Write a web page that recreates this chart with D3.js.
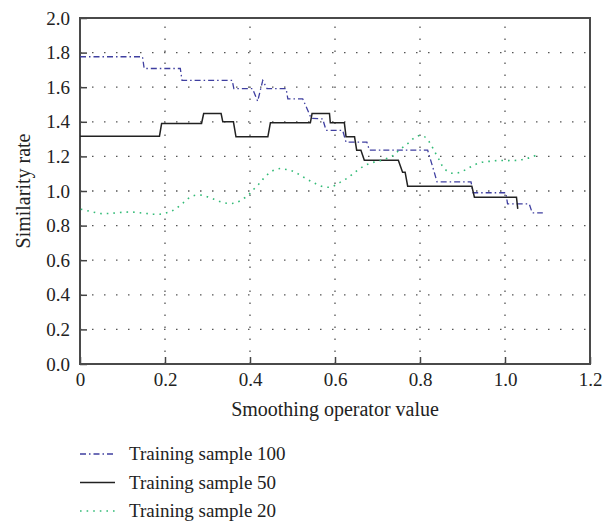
<!DOCTYPE html>
<html>
<head>
<meta charset="utf-8">
<script src="https://cdn.jsdelivr.net/npm/d3@7"></script>
<style>
  body { margin: 0; background: #fff; }
  svg text { font-family: "Liberation Serif", "DejaVu Serif", serif; fill: #222; }
</style>
</head>
<body>
<svg id="chart" width="616" height="522"></svg>
<script>
// values
let x_ticks = [0, 0.2, 0.4, 0.6, 0.8, 1.0, 1.2];
let y_ticks = [0, 0.2, 0.4, 0.6, 0.8, 1.0, 1.2, 1.4, 1.6, 1.8, 2.0];

let sample100 = [
    [0, 1.776], [0.147, 1.776], [0.151, 1.708], [0.236, 1.708], [0.24, 1.64], [0.358, 1.64],
    [0.362, 1.592], [0.406, 1.592], [0.418, 1.519], [0.43, 1.639], [0.44, 1.592], [0.485, 1.592],
    [0.489, 1.533], [0.524, 1.533], [0.544, 1.42], [0.571, 1.417], [0.579, 1.351], [0.618, 1.351],
    [0.626, 1.282], [0.675, 1.282], [0.681, 1.236], [0.818, 1.236], [0.834, 1.105], [0.84, 1.053],
    [0.92, 1.053], [0.925, 0.99], [1.002, 0.99], [1.006, 0.926], [1.057, 0.926], [1.064, 0.874],
    [1.089, 0.874]
];

let sample50 = [
    [0, 1.317], [0.187, 1.317], [0.192, 1.39], [0.286, 1.39], [0.291, 1.448], [0.332, 1.448],
    [0.336, 1.4], [0.361, 1.4], [0.367, 1.313], [0.442, 1.313], [0.448, 1.394], [0.542, 1.394],
    [0.546, 1.448], [0.587, 1.448], [0.589, 1.394], [0.622, 1.394], [0.626, 1.313], [0.646, 1.313],
    [0.651, 1.236], [0.661, 1.236], [0.669, 1.178], [0.749, 1.178], [0.759, 1.109], [0.765, 1.109],
    [0.771, 1.028], [0.922, 1.028], [0.928, 0.964], [1.027, 0.964], [1.03, 0.897]
];

let sample20 = [
    [0.002, 0.895], [0.016, 0.887], [0.031, 0.878], [0.047, 0.870], [0.063, 0.870], [0.078, 0.872],
    [0.094, 0.876], [0.11, 0.878], [0.125, 0.878], [0.141, 0.874], [0.157, 0.870], [0.172, 0.866],
    [0.188, 0.866], [0.204, 0.874], [0.218, 0.887], [0.23, 0.906], [0.243, 0.932], [0.255, 0.957],
    [0.269, 0.974], [0.285, 0.976], [0.3, 0.966], [0.315, 0.953], [0.329, 0.939], [0.345, 0.929],
    [0.361, 0.929], [0.375, 0.941], [0.388, 0.961], [0.4, 0.986], [0.41, 1.013], [0.422, 1.043],
    [0.431, 1.07], [0.443, 1.099], [0.456, 1.12], [0.471, 1.13], [0.486, 1.124], [0.502, 1.113],
    [0.516, 1.095], [0.529, 1.076], [0.544, 1.055], [0.557, 1.039], [0.571, 1.026], [0.587, 1.022],
    [0.601, 1.034], [0.614, 1.053], [0.627, 1.072], [0.64, 1.095], [0.653, 1.12], [0.667, 1.143],
    [0.681, 1.159], [0.695, 1.169], [0.71, 1.178], [0.724, 1.19], [0.738, 1.207], [0.75, 1.234],
    [0.763, 1.259], [0.775, 1.282], [0.787, 1.308], [0.8, 1.321], [0.814, 1.308], [0.824, 1.275],
    [0.832, 1.24], [0.839, 1.207], [0.847, 1.172], [0.853, 1.143], [0.865, 1.113], [0.879, 1.102],
    [0.894, 1.108], [0.908, 1.124], [0.922, 1.143], [0.936, 1.159], [0.951, 1.169], [0.967, 1.172],
    [0.981, 1.176], [0.997, 1.176], [1.014, 1.176], [1.03, 1.178], [1.045, 1.184], [1.06, 1.194],
    [1.075, 1.209]
];

let legend_labels = ["Training sample 100", "Training sample 50", "Training sample 20"];

let plot_left = 80, plot_right = 590, plot_top = 18, plot_bottom = 364;

let svg = d3.select("#chart");

let x = d3.scaleLinear().domain([0, 1.2]).range([plot_left, plot_right]);
let y = d3.scaleLinear().domain([0, 2.0]).range([plot_bottom, plot_top]);

// dotted grid
let grid = svg.append("g").attr("class", "grid");
grid.selectAll("line.h")
    .data(y_ticks.filter(function (d) { return d > 0 && d < 2; }))
    .enter().append("line")
    .attr("x1", plot_left).attr("x2", plot_right)
    .attr("y1", function (d) { return y(d); })
    .attr("y2", function (d) { return y(d); })
    .attr("stroke", "#555")
    .attr("stroke-width", 1.3)
    .attr("stroke-dasharray", "1.5,10.5");

grid.selectAll("line.v")
    .data(x_ticks.filter(function (d) { return d > 0 && d < 1.2; }))
    .enter().append("line")
    .attr("y1", plot_bottom).attr("y2", plot_top)
    .attr("x1", function (d) { return x(d); })
    .attr("x2", function (d) { return x(d); })
    .attr("stroke", "#555")
    .attr("stroke-width", 1.3)
    .attr("stroke-dasharray", "1.5,10.5");

// axes
let y_axis = d3.axisLeft(y).tickValues(y_ticks).tickFormat(d3.format(".1f"))
    .tickSizeInner(-7).tickSizeOuter(0).tickPadding(10);
let x_axis = d3.axisBottom(x).tickValues(x_ticks)
    .tickFormat(function (d) { return d === 0 ? "0" : d3.format(".1f")(d); })
    .tickSizeInner(-7).tickSizeOuter(0).tickPadding(9);

let gy = svg.append("g").attr("transform", "translate(" + plot_left + ",0)").call(y_axis);
let gx = svg.append("g").attr("transform", "translate(0," + plot_bottom + ")").call(x_axis);

[gx, gy].forEach(function (g) {
    g.select(".domain").remove();
    g.selectAll(".tick line").attr("stroke", "#444").attr("stroke-width", 1.5);
    g.selectAll(".tick text").style("font-size", "19px").attr("fill", "#222")
        .style("font-family", "'Liberation Serif', 'DejaVu Serif', serif");
});

// frame
svg.append("rect")
    .attr("x", plot_left).attr("y", plot_top)
    .attr("width", plot_right - plot_left).attr("height", plot_bottom - plot_top)
    .attr("fill", "none")
    .attr("stroke", "#4a4a4a")
    .attr("stroke-width", 2);

// series
let line = d3.line()
    .x(function (d) { return x(d[0]); })
    .y(function (d) { return y(d[1]); });

let smooth = d3.line()
    .x(function (d) { return x(d[0]); })
    .y(function (d) { return y(d[1]); })
    .curve(d3.curveCatmullRom);

let styles = [
    { color: "#3f3fa0", width: 1.3, dash: "6,3,1.5,3" },
    { color: "#222222", width: 1.5, dash: null },
    { color: "#33bb77", width: 1.6, dash: "1.6,5" }
];

svg.append("path").datum(sample100)
    .attr("d", line).attr("fill", "none")
    .attr("stroke", styles[0].color).attr("stroke-width", styles[0].width)
    .attr("stroke-dasharray", styles[0].dash);

svg.append("path").datum(sample50)
    .attr("d", line).attr("fill", "none")
    .attr("stroke", styles[1].color).attr("stroke-width", styles[1].width);

svg.append("path").datum(sample20)
    .attr("d", smooth).attr("fill", "none")
    .attr("stroke", styles[2].color).attr("stroke-width", styles[2].width)
    .attr("stroke-dasharray", styles[2].dash);

// axis titles
svg.append("text")
    .attr("x", (plot_left + plot_right) / 2).attr("y", 416)
    .attr("text-anchor", "middle")
    .style("font-size", "20px")
    .text("Smoothing operator value");

svg.append("text")
    .attr("transform", "translate(30," + ((plot_top + plot_bottom) / 2) + ") rotate(-90)")
    .attr("text-anchor", "middle")
    .style("font-size", "20px")
    .text("Similarity rate");

// legend
let legend = svg.append("g").selectAll("g")
    .data(legend_labels)
    .enter().append("g")
    .attr("transform", function (d, i) { return "translate(80," + (454 + i * 28.5) + ")"; });

legend.append("line")
    .attr("x1", 0).attr("x2", 35)
    .attr("stroke", function (d, i) { return styles[i].color; })
    .attr("stroke-width", function (d, i) { return styles[i].width; })
    .attr("stroke-dasharray", function (d, i) { return styles[i].dash; });

legend.append("text")
    .attr("x", 49).attr("y", 6)
    .style("font-size", "19px")
    .text(function (d) { return d; });
</script>
</body>
</html>
